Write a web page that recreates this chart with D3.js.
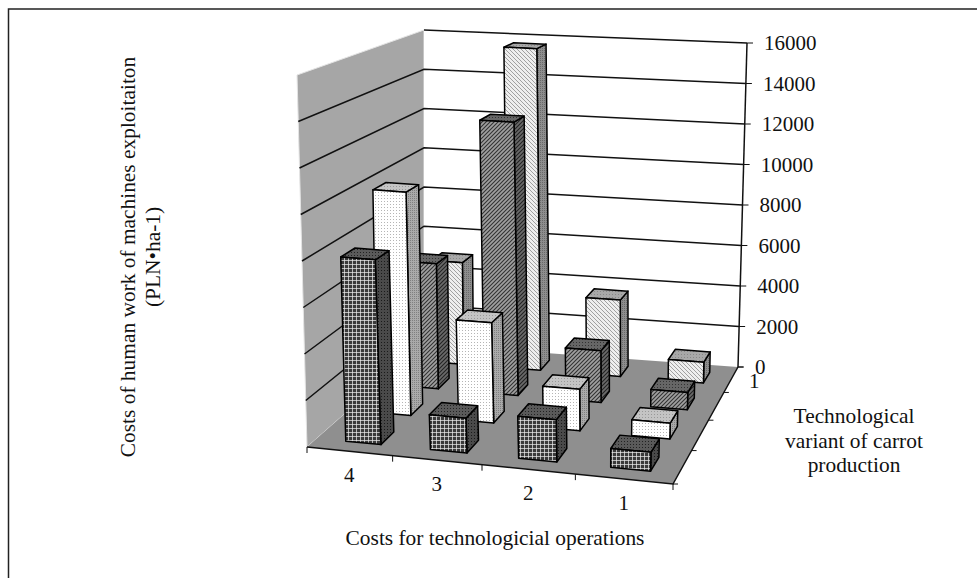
<!DOCTYPE html>
<html>
<head>
<meta charset="utf-8">
<script src="https://cdn.jsdelivr.net/npm/d3@7"></script>
<style>
  html, body { margin: 0; padding: 0; background: #fff; }
  text { font-family: "Liberation Serif", serif; fill: #111; }
</style>
</head>
<body>
<div id="chart"></div>
<script>
const categories = ["4", "3", "2", "1"];
const seriesNames = ["s1", "s2", "s3", "s4"]; // front row to back row
const s1Values = [8000, 1500, 1800, 800];
const s2Values = [10100, 4500, 1850, 700];
const s3Values = [5900, 12800, 2400, 800];
const s4Values = [5000, 15700, 3700, 1000];
const allValues = [s1Values, s2Values, s3Values, s4Values];
const valueTicks = [0, 2000, 4000, 6000, 8000, 10000, 12000, 14000, 16000];

const width = 977;
const height = 578;

const svg = d3.select("#chart")
    .append("svg")
    .attr("width", width)
    .attr("height", height);

// square to quad mapping, used for the floor and the ceiling of the 3D box
function quad(p) {
    const [[x0, y0], [x1, y1], [x2, y2], [x3, y3]] = p;
    const dx1 = x1 - x2, dx2 = x3 - x2, sx = x0 - x1 + x2 - x3;
    const dy1 = y1 - y2, dy2 = y3 - y2, sy = y0 - y1 + y2 - y3;
    const den = dx1 * dy2 - dx2 * dy1;
    const g = (sx * dy2 - dx2 * sy) / den;
    const h = (dx1 * sy - sx * dy1) / den;
    const a = x1 - x0 + g * x1, b = x3 - x0 + h * x3;
    const d = y1 - y0 + g * y1, e = y3 - y0 + h * y3;
    return (u, w) => {
        const q = g * u + h * w + 1;
        return [(a * u + b * w + x0) / q, (d * u + e * w + y0) / q];
    };
}

// box corners: front left, front right, back right, back left
const floor = quad([[307, 447], [673, 484], [738, 367], [424, 344]]);
const ceiling = quad([[297, 75], [685, 102], [747, 43], [424, 30]]);

const project = (u, v, w) => {
    const a = floor(u, w), b = ceiling(u, w);
    return [a[0] + (b[0] - a[0]) * v, a[1] + (b[1] - a[1]) * v];
};

const xBand = d3.scaleBand().domain(categories).range([0.015, 1]).paddingInner(0.58).paddingOuter(0.29);
const zBand = d3.scaleBand().domain(seriesNames).range([0, 1]).paddingInner(0.58).paddingOuter(0.29);
const vScale = d3.scaleLinear().domain([0, 16000]).range([0, 1]);

const line = d3.line();
const area = pts => line(pts) + "Z";

// fill patterns, one per series and face
const defs = svg.append("defs");
function makePattern(id, size, bg, draw) {
    const p = defs.append("pattern")
        .attr("id", id)
        .attr("patternUnits", "userSpaceOnUse")
        .attr("width", size)
        .attr("height", size);
    p.append("rect").attr("width", size).attr("height", size).attr("fill", bg);
    draw(p);
}
const gridP = (color, op) => p => {
    p.append("path").attr("d", "M0 .5H4M.5 0V4").attr("stroke", color).attr("stroke-opacity", op).attr("fill", "none");
};
const dotP = (color, s) => p => {
    p.append("rect").attr("width", s).attr("height", s).attr("fill", color);
};
const hatchUp = (color, w) => p => {
    p.append("path").attr("d", "M-1 1L1 -1M0 4L4 0M3 5L5 3").attr("stroke", color).attr("stroke-width", w);
};
const hatchDown = (color, w) => p => {
    p.append("path").attr("d", "M-1 3L1 5M0 0L4 4M3 -1L5 1").attr("stroke", color).attr("stroke-width", w);
};
makePattern("s1-front", 4, "#3a3a3a", gridP("#eee", 0.7));
makePattern("s1-top", 3, "#5a5a5a", dotP("#222", 1));
makePattern("s1-side", 3, "#4a4a4a", dotP("#1a1a1a", 1));
makePattern("s2-front", 3, "#fff", dotP("#b5b5b5", 1));
makePattern("s2-top", 3, "#c4c4c4", dotP("#999", 1));
makePattern("s2-side", 2, "#aaa", dotP("#808080", 1));
makePattern("s3-front", 4, "#a0a0a0", hatchUp("#333", 1.1));
makePattern("s3-top", 3, "#666", dotP("#333", 1));
makePattern("s3-side", 4, "#6a6a6a", hatchUp("#222", 1.1));
makePattern("s4-front", 4, "#eee", hatchDown("#a0a0a0", 1));
makePattern("s4-top", 3, "#a8a8a8", dotP("#888", 1));
makePattern("s4-side", 2, "#8e8e8e", dotP("#6a6a6a", 1));

// frame of the picture
svg.append("path")
    .attr("d", `M${width} 9H8.5V${height}`)
    .attr("fill", "none")
    .attr("stroke", "#222")
    .attr("stroke-width", 1.5);

// walls and floor
svg.append("path").attr("d", area([project(0, 0, 0), project(0, 1, 0), project(0, 1, 1), project(0, 0, 1)]))
    .attr("fill", "#a6a6a6").attr("stroke", "#e4e4e4");
svg.append("path").attr("d", area([project(0, 0, 1), project(0, 1, 1), project(1, 1, 1), project(1, 0, 1)]))
    .attr("fill", "#fff").attr("stroke", "none");
svg.append("path").attr("d", area([project(0, 0, 0), project(1, 0, 0), project(1, 0, 1), project(0, 0, 1)]))
    .attr("fill", "#8f8f8f").attr("stroke", "none");

// gridlines run along the left wall and the back wall, the top one only on the back wall
valueTicks.slice(1).forEach(t => {
    const v = vScale(t);
    const pts = t === 16000
        ? [project(0, v, 1), project(1, v, 1)]
        : [project(0, v, 0), project(0, v, 1), project(1, v, 1)];
    svg.append("path")
        .attr("d", line(pts))
        .attr("fill", "none")
        .attr("stroke", "#111")
        .attr("stroke-width", 1.5);
});

// value axis on the right
svg.append("path")
    .attr("d", line([project(1, 0, 1), project(1, 1, 1)]))
    .attr("stroke", "#111").attr("stroke-width", 1.5).attr("fill", "none");
valueTicks.forEach(t => {
    const [px, py] = project(1, vScale(t), 1);
    svg.append("line")
        .attr("x1", px).attr("x2", px + 6).attr("y1", py).attr("y2", py)
        .attr("stroke", "#111");
    svg.append("text")
        .attr("x", px + 17).attr("y", py + 7)
        .style("font-size", "21px")
        .text(t);
});

// front edge and right edge of the floor with their ticks
svg.append("path")
    .attr("d", line([project(0, 0, 0), project(1, 0, 0), project(1, 0, 1)]))
    .attr("fill", "none").attr("stroke", "#111").attr("stroke-width", 1.5);
d3.range(0, categories.length + 1).forEach(i => {
    const [px, py] = project(i / categories.length, 0, 0);
    svg.append("line").attr("x1", px).attr("x2", px).attr("y1", py).attr("y2", py + 6).attr("stroke", "#111");
});
d3.range(0, seriesNames.length + 1).forEach(i => {
    const [px, py] = project(1, 0, i / seriesNames.length);
    svg.append("line").attr("x1", px).attr("x2", px + 5).attr("y1", py).attr("y2", py).attr("stroke", "#111");
});

// category labels under the front edge
categories.forEach((c, i) => {
    const [px, py] = project((i + 0.5) / categories.length, 0, 0);
    svg.append("text")
        .attr("x", px).attr("y", py + 31)
        .attr("text-anchor", "middle")
        .style("font-size", "21px")
        .text(c);
});

// bars, back row first, right to left inside a row
const faces = [];
seriesNames.forEach((s, si) => {
    categories.forEach((c, ci) => {
        faces.push({ s, c, value: allValues[si][ci], si, ci });
    });
});
faces.sort((a, b) => (b.si - a.si) || (b.ci - a.ci));

faces.forEach(d => {
    const u0 = xBand(d.c), u1 = u0 + xBand.bandwidth();
    const w0 = zBand(d.s), w1 = w0 + zBand.bandwidth();
    const v = vScale(d.value);
    const g = svg.append("g")
        .attr("stroke", "#000")
        .attr("stroke-width", 1.5)
        .attr("stroke-linejoin", "round");
    g.append("path").attr("fill", `url(#${d.s}-side)`)
        .attr("d", area([project(u1, 0, w0), project(u1, v, w0), project(u1, v, w1), project(u1, 0, w1)]));
    g.append("path").attr("fill", `url(#${d.s}-top)`)
        .attr("d", area([project(u0, v, w0), project(u1, v, w0), project(u1, v, w1), project(u0, v, w1)]));
    g.append("path").attr("fill", `url(#${d.s}-front)`)
        .attr("d", area([project(u0, 0, w0), project(u1, 0, w0), project(u1, v, w0), project(u0, v, w0)]));
});

// titles
svg.append("text")
    .attr("x", 495).attr("y", 545)
    .attr("text-anchor", "middle")
    .style("font-size", "21.4px")
    .text("Costs for technologicial operations");

svg.selectAll(".ytitle")
    .data(["Costs of human work of machines exploitaiton", "(PLN•ha-1)"])
    .enter()
    .append("text")
    .attr("class", "ytitle")
    .attr("transform", (d, i) => `translate(${135 + i * 25}, 257) rotate(-90)`)
    .attr("text-anchor", "middle")
    .style("font-size", "21.4px")
    .text(d => d);

svg.selectAll(".ztitle")
    .data(["Technological", "variant of carrot", "production"])
    .enter()
    .append("text")
    .attr("class", "ztitle")
    .attr("x", 854)
    .attr("y", (d, i) => 423 + i * 24.5)
    .attr("text-anchor", "middle")
    .style("font-size", "21.4px")
    .text(d => d);

// depth axis label, only the first one shows in the picture
svg.append("text")
    .attr("x", 749).attr("y", 388)
    .style("font-size", "21px")
    .text("1");
</script>
</body>
</html>
